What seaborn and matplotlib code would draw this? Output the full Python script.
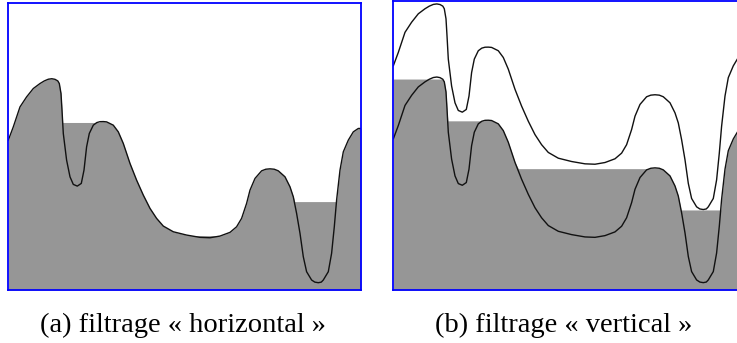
import numpy as np
import pandas as pd
import matplotlib
matplotlib.use('Agg')
import matplotlib.pyplot as plt
import seaborn as sns

# profile (x, height above the panel floor, panel pixels)
curve_x = [0, 5, 11.7, 18.3, 25, 31.7, 36, 40, 43.5, 46.7, 49.5, 51, 52.7, 53.7,
           55, 58.3, 61.7, 65, 69, 73, 75.7, 78.3, 81, 85, 88.5, 91.7, 95, 98.3,
           105, 110, 115, 121.7, 128.3, 135, 141.7, 148.3, 155, 165, 178.3,
           191.7, 201.7, 211.7, 221.7, 228.3, 233.3, 238.3, 241.7, 246.7, 253.3,
           257.5, 261.7, 266, 270, 276.7, 281.7, 285, 288.3, 291.7, 295, 298.3,
           303.3, 306.5, 310, 313, 315, 320, 323.3, 326, 328.3, 331.7, 335, 340,
           345, 350, 352.7]
curve_y = [150, 163.3, 183.3, 193.3, 201.7, 206.7, 209.3, 211, 211.5, 210.9, 209.3,
           206.7, 196.7, 180, 156.7, 130, 113.3, 105.7, 104, 106.7, 120, 143.3,
           156.7, 165, 167.6, 168.5, 168.6, 168.3, 165, 158.3, 146.7, 126.7, 110,
           95, 81.7, 71.7, 64, 58.3, 55, 52.7, 52.3, 54, 57.7, 63.3, 71.7, 86.7,
           100, 111.7, 119.3, 120.9, 121.3, 120.9, 119.3, 113.3, 103.3, 93.3,
           76.7, 56.7, 33.3, 18.3, 10, 7.9, 7.3, 7.9, 10, 18.3, 36.7, 63.3, 90,
           120, 138.3, 150, 158.3, 161.7, 161.7]

# upper (marker) curve of the vertical filtering sits this far above the profile
marker_shift = 72.6

# flat plateaus of each filtered result: (x start, x end, level)
flats_horizontal = [(54.4, 90.5, 167.7), (180, 210, 54.5), (286.5, 328, 88.5)]
flats_vertical = [(0, 49, 209.5), (54.5, 90.5, 168.0), (125, 256, 120.5), (287.7, 327.4, 79.5)]

captions = ['(a) filtrage « horizontal »', '(b) filtrage « vertical »']

W, H = 352.7, 287.3
GRAY = '#969696'
LINE = '#111111'
BLUE = '#0000ff'


def filtered_profile(xs, ys, flats):
    px, py = [], []
    for x, y in zip(xs, ys):
        if any(a < x < b for a, b, _ in flats):
            continue
        px.append(x)
        py.append(y)
    for a, b, lev in flats:
        px += [a, b]
        py += [lev, lev]
    order = np.argsort(px, kind='stable')
    return np.array(px)[order], np.array(py)[order]


def style_panel(ax):
    ax.set_xlim(0, W)
    ax.set_ylim(0, H)
    ax.set_xticks([])
    ax.set_yticks([])
    ax.set_xlabel('')
    ax.set_ylabel('')
    ax.set_facecolor('white')
    for s in ax.spines.values():
        s.set_visible(True)
        s.set_color(BLUE)
        s.set_linewidth(1.3)


sns.set_theme(style='white')
plt.rcParams['font.family'] = ['Liberation Serif', 'DejaVu Serif']

fig = plt.figure(figsize=(7.37, 3.43), dpi=100)
fw, fh = 737, 343
ax1 = fig.add_axes([8.3 / fw, 53 / fh, W / fw, 287 / fh])
ax2 = fig.add_axes([393.3 / fw, 53 / fh, W / fw, 289.3 / fh])

df = pd.DataFrame({'x': curve_x, 'y': curve_y})
df['upper'] = df['y'] + marker_shift

# (a) horizontal
fx, fy = filtered_profile(curve_x, curve_y, flats_horizontal)
ax1.fill_between(fx, 0, fy, color=GRAY, lw=0)
sns.lineplot(data=df, x='x', y='y', ax=ax1, color=LINE, lw=1.0, sort=False,
             estimator=None)
style_panel(ax1)

# (b) vertical
fx, fy = filtered_profile(curve_x, curve_y, flats_vertical)
ax2.fill_between(fx, 0, fy, color=GRAY, lw=0)
sns.lineplot(data=df, x='x', y='y', ax=ax2, color=LINE, lw=1.0, sort=False,
             estimator=None)
sns.lineplot(data=df, x='x', y='upper', ax=ax2, color=LINE, lw=1.0, sort=False,
             estimator=None)
style_panel(ax2)

fig.text(182.5 / fw, 11.3 / fh, captions[0], ha='center', va='baseline',
         fontsize=20.5, color='black')
fig.text(564 / fw, 11.3 / fh, captions[1], ha='center', va='baseline',
         fontsize=20.5, color='black')

fig.savefig('out.png', dpi=100, facecolor='white')
